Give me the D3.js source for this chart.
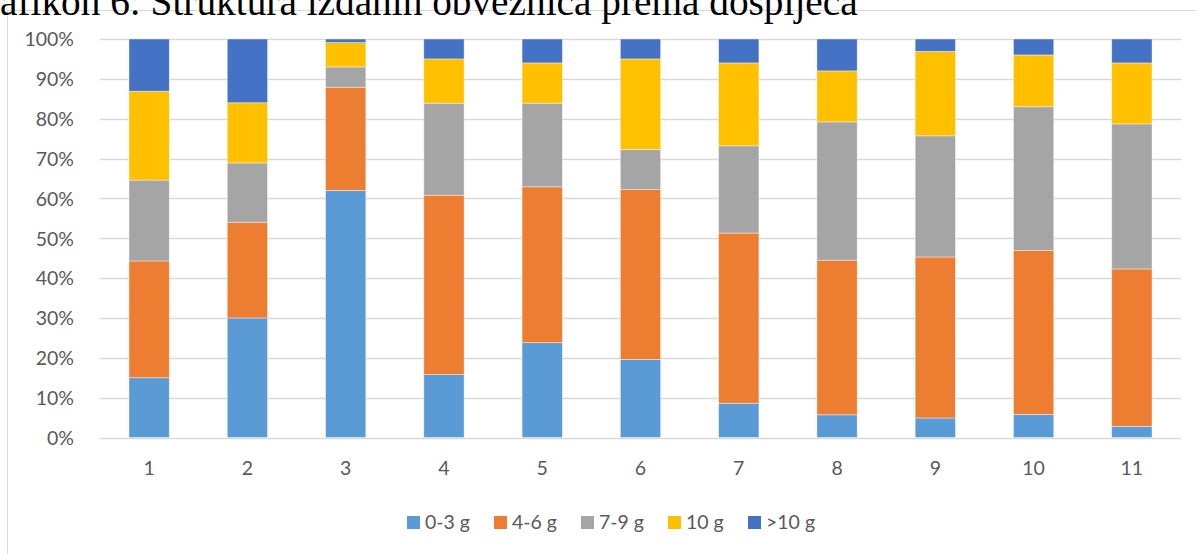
<!DOCTYPE html>
<html>
<head>
<meta charset="utf-8">
<script src="https://cdn.jsdelivr.net/npm/d3@7"></script>
<style>
  body { margin: 0; background: #fff; }
  svg { display: block; }
</style>
</head>
<body>
<div class="canvas"></div>
<script>
// chart data (percent per maturity group)
const categories = ['1', '2', '3', '4', '5', '6', '7', '8', '9', '10', '11'];
const seriesNames = ['0-3 g', '4-6 g', '7-9 g', '10 g', '>10 g'];
const s0to3 = [15.0, 30.0, 62.0, 15.8, 23.8, 19.6, 8.6, 5.7, 4.9, 5.8, 2.8];
const s4to6 = [29.3, 24.0, 25.9, 45.0, 39.1, 42.6, 42.7, 38.8, 40.4, 41.1, 39.5];
const s7to9 = [20.3, 14.9, 5.1, 23.1, 21.0, 10.1, 21.9, 34.7, 30.4, 36.1, 36.4];
const s10 = [22.3, 15.1, 6.1, 11.1, 10.1, 22.7, 20.8, 12.8, 21.2, 13.0, 15.3];
const sOver10 = [13.1, 16.0, 0.9, 5.0, 6.0, 5.0, 6.0, 8.0, 3.1, 4.0, 6.0];
const yTicks = [0, 10, 20, 30, 40, 50, 60, 70, 80, 90, 100];
const colors = ['#5b9bd5', '#ed7d31', '#a5a5a5', '#ffc000', '#4472c4'];
const titleText = 'Grafikon 6: Struktura izdanih obveznica prema dospijeća';

const W = 1196, H = 554;
const margin = { top: 39, left: 100, right: 15, bottom: 116 };

const svg = d3.select('.canvas').append('svg')
    .attr('width', W)
    .attr('height', H);

// outer chart frame (right/bottom edges fall outside the picture)
svg.append('rect')
    .attr('x', 7.5).attr('y', 10.5)
    .attr('width', W + 20).attr('height', H + 20)
    .attr('fill', '#fff')
    .attr('stroke', '#d9d9d9');

// title, cropped at the top like in the source
const title = svg.append('text')
    .attr('font-family', '"Liberation Serif", "Times New Roman", serif')
    .attr('font-size', 100)
    .attr('fill', '#000')
    .text(titleText);
// fit so "afikon..." starts at x=0 and the text ends near x=858
const full = title.node().getComputedTextLength();
const pre = title.node().getSubStringLength(0, 2);
const fs = 100 * 858 / (full - pre);
title.attr('font-size', fs)
    .attr('x', -pre * fs / 100)
    .attr('y', 15);

// scales
const x = d3.scaleBand()
    .domain(categories)
    .range([margin.left, W - margin.right])
    .paddingInner(0.59)
    .paddingOuter(0.295);

const y = d3.scaleLinear()
    .domain([0, 100])
    .range([H - margin.bottom + 0.5 - 1, margin.top]);

// gridlines
svg.append('g')
    .selectAll('line')
    .data(yTicks)
    .join('line')
    .attr('x1', margin.left).attr('x2', W - margin.right)
    .attr('y1', d => Math.round(y(d)) + 0.5)
    .attr('y2', d => Math.round(y(d)) + 0.5)
    .attr('stroke', '#d9d9d9')
    .attr('stroke-width', 1.3);

// stack the series
const table = categories.map((c, i) => ({
    cat: c,
    '0-3 g': s0to3[i], '4-6 g': s4to6[i], '7-9 g': s7to9[i],
    '10 g': s10[i], '>10 g': sOver10[i]
}));
const stacked = d3.stack().keys(seriesNames)(table);

svg.append('g')
    .selectAll('g')
    .data(stacked)
    .join('g')
    .attr('fill', (d, i) => colors[i])
    .selectAll('rect')
    .data(d => d)
    .join('rect')
    .attr('x', d => x(d.data.cat))
    .attr('width', x.bandwidth())
    .attr('y', d => y(d[1]))
    .attr('height', d => y(d[0]) - y(d[1]))
    .attr('stroke', '#fff')
    .attr('stroke-opacity', 0.5)
    .attr('stroke-width', 0.8);

// axes (text only, Excel style)
const font = 'Lato, "Open Sans", sans-serif';
const yAxis = svg.append('g')
    .attr('transform', `translate(${margin.left - 23},0)`)
    .call(d3.axisLeft(y).tickValues(yTicks).tickSize(0).tickFormat(d => d + '%'));
yAxis.select('.domain').remove();
yAxis.selectAll('text')
    .attr('font-family', font).attr('font-size', 19.5)
    .attr('fill', '#595959').attr('dx', 0).attr('dy', '0.35em');

const xAxis = svg.append('g')
    .attr('transform', `translate(0,${y(0)})`)
    .call(d3.axisBottom(x).tickSize(0));
xAxis.select('.domain').remove();
xAxis.selectAll('text')
    .attr('font-family', font).attr('font-size', 19.5)
    .attr('fill', '#595959').attr('y', 24);

// legend
const legendX = [407, 494, 581, 668, 748];
const legend = svg.append('g')
    .selectAll('g')
    .data(seriesNames)
    .join('g')
    .attr('transform', (d, i) => `translate(${legendX[i]},516)`);
legend.append('rect')
    .attr('width', 13).attr('height', 13)
    .attr('fill', (d, i) => colors[i]);
legend.append('text')
    .attr('x', 18).attr('y', 6.5).attr('dy', '0.35em')
    .attr('font-family', font).attr('font-size', 19.5)
    .attr('fill', '#595959')
    .text(d => d);
</script>
</body>
</html>
